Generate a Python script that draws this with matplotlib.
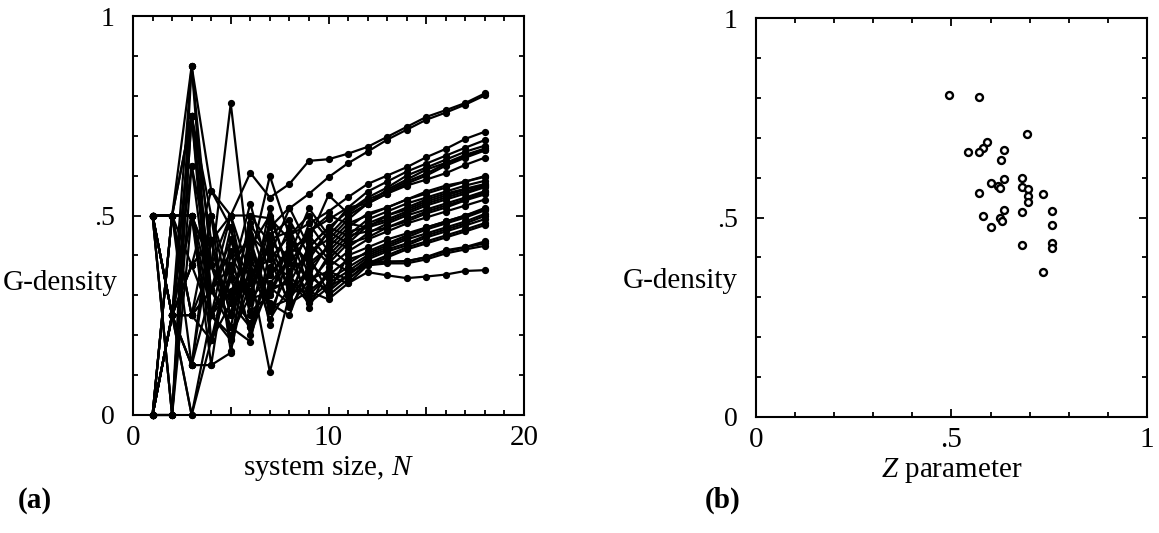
import matplotlib
matplotlib.use("Agg")
import matplotlib.pyplot as plt
from matplotlib.ticker import MultipleLocator, FixedLocator, FixedFormatter

plt.rcParams['font.family'] = ['Liberation Serif', 'DejaVu Serif']
plt.rcParams['mathtext.fontset'] = 'custom'
plt.rcParams['mathtext.rm'] = 'Liberation Serif'
plt.rcParams['mathtext.it'] = 'Liberation Serif:italic'

# ---------------- data ----------------
system_size = list(range(1, 19))

# G-density vs system size N (N = 1..18), one list per run
g_density_series = [
    [0.5, 0.5, 0.875, 0.5625, 0.5, 0.607, 0.545, 0.579, 0.637, 0.641, 0.655, 0.672, 0.697, 0.722, 0.747, 0.764, 0.782, 0.806],
    [0, 0.25, 0.75, 0.3125, 0.375, 0.45, 0.40, 0.518, 0.554, 0.596, 0.631, 0.660, 0.690, 0.715, 0.740, 0.758, 0.778, 0.801],
    [0.5, 0.25, 0.5, 0.375, 0.781, 0.359, 0.39, 0.45, 0.48, 0.51, 0.546, 0.579, 0.600, 0.621, 0.646, 0.667, 0.692, 0.710],
    [0, 0.5, 0.75, 0.4375, 0.25, 0.5, 0.43, 0.40, 0.46, 0.49, 0.52, 0.56, 0.585, 0.61, 0.63, 0.65, 0.67, 0.689],
    [0.5, 0.5, 0.25, 0.3125, 0.4375, 0.3, 0.47, 0.52, 0.42, 0.47, 0.51, 0.545, 0.57, 0.60, 0.62, 0.64, 0.66, 0.675],
    [0, 0.25, 0.125, 0.5, 0.28, 0.39, 0.599, 0.45, 0.50, 0.44, 0.49, 0.53, 0.565, 0.59, 0.615, 0.632, 0.652, 0.668],
    [0.5, 0, 0.75, 0.1875, 0.34, 0.53, 0.35, 0.42, 0.44, 0.551, 0.505, 0.54, 0.56, 0.585, 0.605, 0.63, 0.648, 0.665],
    [0, 0, 0.75, 0.25, 0.469, 0.25, 0.45, 0.489, 0.40, 0.46, 0.52, 0.53, 0.555, 0.58, 0.60, 0.625, 0.645, 0.663],
    [0.5, 0.25, 0.375, 0.4375, 0.5, 0.35, 0.30, 0.40, 0.518, 0.45, 0.50, 0.53, 0.555, 0.575, 0.59, 0.606, 0.627, 0.645],
    [0, 0.25, 0.625, 0.25, 0.1875, 0.42, 0.5, 0.36, 0.46, 0.50, 0.48, 0.50, 0.52, 0.54, 0.555, 0.57, 0.585, 0.599],
    [0.5, 0.5, 0.5, 0.375, 0.5, 0.5, 0.493, 0.44, 0.38, 0.42, 0.47, 0.505, 0.52, 0.54, 0.56, 0.575, 0.585, 0.597],
    [0, 0.25, 0.125, 0.125, 0.156, 0.47, 0.32, 0.33, 0.42, 0.47, 0.45, 0.49, 0.51, 0.53, 0.545, 0.56, 0.575, 0.587],
    [0.5, 0.25, 0.25, 0.5, 0.34, 0.22, 0.36, 0.47, 0.35, 0.43, 0.48, 0.47, 0.50, 0.52, 0.54, 0.555, 0.567, 0.579],
    [0, 0.5, 0.75, 0.3125, 0.22, 0.184, 0.41, 0.38, 0.45, 0.39, 0.44, 0.48, 0.50, 0.515, 0.535, 0.55, 0.565, 0.576],
    [0.5, 0.25, 0, 0.25, 0.375, 0.44, 0.226, 0.42, 0.39, 0.46, 0.43, 0.475, 0.49, 0.51, 0.53, 0.545, 0.56, 0.573],
    [0, 0.5, 0.375, 0.5625, 0.47, 0.28, 0.52, 0.34, 0.48, 0.41, 0.46, 0.47, 0.485, 0.505, 0.525, 0.54, 0.555, 0.571],
    [0.5, 0.5, 0.125, 0.4375, 0.25, 0.36, 0.108, 0.30, 0.41, 0.44, 0.42, 0.455, 0.48, 0.50, 0.515, 0.53, 0.545, 0.561],
    [0, 0.25, 0.5, 0.1875, 0.4, 0.31, 0.44, 0.46, 0.32, 0.40, 0.45, 0.46, 0.47, 0.49, 0.51, 0.525, 0.54, 0.558],
    [0.5, 0, 0.875, 0.375, 0.28, 0.48, 0.39, 0.28, 0.43, 0.38, 0.43, 0.445, 0.47, 0.485, 0.505, 0.52, 0.538, 0.553],
    [0, 0.25, 0.25, 0.3125, 0.5, 0.26, 0.30, 0.43, 0.267, 0.37, 0.41, 0.44, 0.46, 0.48, 0.495, 0.51, 0.525, 0.540],
    [0.5, 0.5, 0.5, 0.25, 0.31, 0.40, 0.26, 0.36, 0.40, 0.305, 0.40, 0.42, 0.44, 0.455, 0.47, 0.485, 0.50, 0.519],
    [0, 0.25, 0.375, 0.4375, 0.19, 0.33, 0.48, 0.30, 0.37, 0.42, 0.38, 0.41, 0.43, 0.45, 0.47, 0.485, 0.50, 0.516],
    [0.5, 0.25, 0.125, 0.3125, 0.41, 0.20, 0.33, 0.39, 0.30, 0.35, 0.39, 0.405, 0.425, 0.445, 0.465, 0.48, 0.495, 0.513],
    [0, 0, 0.625, 0.375, 0.22, 0.44, 0.28, 0.25, 0.38, 0.34, 0.37, 0.40, 0.42, 0.44, 0.455, 0.47, 0.485, 0.504],
    [0.5, 0.5, 0.25, 0.1875, 0.36, 0.29, 0.35, 0.41, 0.33, 0.39, 0.36, 0.395, 0.415, 0.43, 0.45, 0.465, 0.48, 0.499],
    [0, 0.25, 0.75, 0.5, 0.16, 0.38, 0.24, 0.32, 0.35, 0.31, 0.35, 0.39, 0.41, 0.425, 0.445, 0.46, 0.475, 0.491],
    [0.5, 0, 0.5, 0.125, 0.44, 0.34, 0.42, 0.27, 0.34, 0.36, 0.34, 0.38, 0.40, 0.42, 0.435, 0.45, 0.465, 0.481],
    [0, 0.5, 0.25, 0.375, 0.30, 0.23, 0.37, 0.35, 0.29, 0.33, 0.36, 0.375, 0.395, 0.415, 0.43, 0.445, 0.46, 0.476],
    [0.5, 0.25, 0.875, 0.25, 0.34, 0.29, 0.31, 0.34, 0.28, 0.32, 0.35, 0.385, 0.385, 0.385, 0.396, 0.413, 0.421, 0.435],
    [0, 0.5, 0.5, 0.3125, 0.25, 0.42, 0.27, 0.29, 0.36, 0.30, 0.34, 0.38, 0.383, 0.386, 0.395, 0.41, 0.42, 0.430],
    [0.5, 0.25, 0.375, 0.25, 0.20, 0.30, 0.43, 0.31, 0.31, 0.35, 0.33, 0.375, 0.38, 0.38, 0.39, 0.405, 0.415, 0.424],
    [0, 0.25, 0, 0.1875, 0.28, 0.22, 0.32, 0.28, 0.31, 0.29, 0.33, 0.358, 0.35, 0.343, 0.347, 0.352, 0.361, 0.363],
]

# Z parameter of each run (panel b), paired with the final G-density
z_parameter = [0.494, 0.571, 0.694, 0.590, 0.580, 0.634, 0.571, 0.543, 0.626,
               0.680, 0.634, 0.600, 0.619, 0.680, 0.625, 0.696, 0.571, 0.733,
               0.696, 0.696, 0.634, 0.757, 0.680, 0.580, 0.624, 0.630, 0.757,
               0.600, 0.757, 0.681, 0.757, 0.735]
final_g_density = [s[-1] for s in g_density_series]

x_ticks_a = [0, 5, 10, 15, 20]
x_ticklabels_a = ['0', '', '10', '', '20']
x_ticks_b = [0, 0.5, 1]
x_ticklabels_b = ['0', '.5', '1']
y_ticks = [0, 0.5, 1]
y_ticklabels = ['0', '.5', '1']

# ---------------- figure ----------------
W, H = 1159, 533
fig = plt.figure(figsize=(W / 100, H / 100), dpi=100)
ax1 = fig.add_axes([133 / W, 1 - 415 / H, 391 / W, 399 / H])
ax2 = fig.add_axes([756 / W, 1 - 417 / H, 391 / W, 399 / H])

for s in g_density_series:
    ax1.plot(system_size, s, '-o', color='black', lw=1.6, ms=4.2,
             clip_on=False, zorder=3)

ax2.plot(z_parameter, final_g_density, 'o', ls='none', mfc='white',
         mec='black', ms=5.0, mew=1.7, zorder=3)


def style(ax, xlim, xmajor, xlabels, xminor):
    ax.set_xlim(*xlim)
    ax.set_ylim(0, 1)
    for sp in ax.spines.values():
        sp.set_linewidth(1.5)
    ax.xaxis.set_major_locator(FixedLocator(xmajor))
    ax.xaxis.set_major_formatter(FixedFormatter(xlabels))
    ax.xaxis.set_minor_locator(MultipleLocator(xminor))
    ax.yaxis.set_major_locator(FixedLocator(y_ticks))
    ax.yaxis.set_major_formatter(FixedFormatter(y_ticklabels))
    ax.yaxis.set_minor_locator(MultipleLocator(0.1))
    ax.tick_params(which='both', direction='in', top=True, right=True,
                   width=1.3)
    ax.tick_params(which='major', length=6)
    ax.tick_params(which='minor', length=3.5)
    ax.tick_params(axis='x', which='major', labelsize=21, pad=7)
    ax.tick_params(axis='y', which='major', labelsize=20, pad=13)


style(ax1, (0, 20), x_ticks_a, x_ticklabels_a, 1)
style(ax2, (0, 1), x_ticks_b, x_ticklabels_b, 0.1)

ax1.set_xlabel('system size, $\\it{N}$', fontsize=21)
ax2.set_xlabel('$\\it{Z}$ parameter', fontsize=21)
for ax in (ax1, ax2):
    ax.xaxis.set_label_coords(0.5, -0.135)
    ax.xaxis.label.set_va('center')

ax1.annotate('G-density', xy=(0, 0.33), xycoords='axes fraction',
             xytext=(-11, 0), textcoords='offset points',
             ha='right', va='center', fontsize=21)
ax2.annotate('G-density', xy=(0, 0.34), xycoords='axes fraction',
             xytext=(-13, 0), textcoords='offset points',
             ha='right', va='center', fontsize=21)

fig.text(18 / W, 1 - 500 / H, '(a)', fontsize=21, fontweight='bold',
         ha='left', va='center')
fig.text(705 / W, 1 - 500 / H, '(b)', fontsize=21, fontweight='bold',
         ha='left', va='center')

fig.savefig('out.png', dpi=100)
